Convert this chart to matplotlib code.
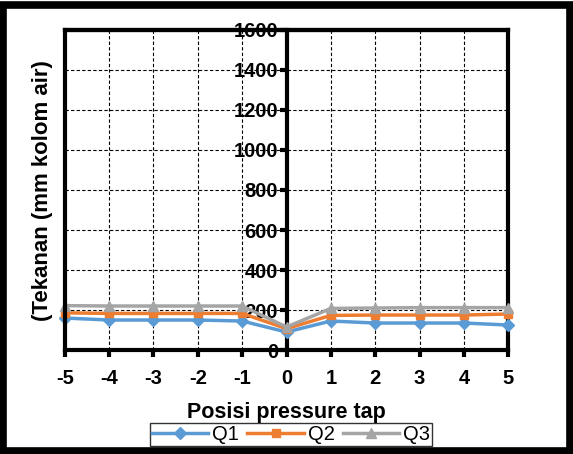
import matplotlib.pyplot as plt
from matplotlib.patches import Rectangle

plt.rcParams['font.family'] = ['Liberation Sans', 'DejaVu Sans']
plt.rcParams['axes.unicode_minus'] = False

# data
posisi = [-5, -4, -3, -2, -1, 0, 1, 2, 3, 4, 5]
q1 = [160, 150, 150, 150, 145, 90, 145, 135, 135, 135, 125]
q2 = [186, 183, 183, 183, 183, 107, 173, 175, 175, 175, 180]
q3 = [222, 220, 220, 220, 220, 115, 208, 210, 212, 212, 212]

fig = plt.figure(figsize=(5.73, 4.54), dpi=100)
ax = fig.add_axes([0.113, 0.229, 0.774, 0.705])

ax.plot(posisi, q1, color='#5B9BD5', marker='D', markersize=6, lw=2.5, label='Q1', zorder=5, clip_on=False)
ax.plot(posisi, q2, color='#ED7D31', marker='s', markersize=6, lw=2.5, label='Q2', zorder=5, clip_on=False)
ax.plot(posisi, q3, color='#A5A5A5', marker='^', markersize=7, lw=2.5, label='Q3', zorder=5, clip_on=False)

ax.set_xlim(-5, 5)
ax.set_ylim(0, 1600)
ax.set_xticks(posisi)
ax.set_yticks(range(0, 1601, 200))

# y axis drawn through the middle
ax.spines['left'].set_position(('data', 0))
for s in ax.spines.values():
    s.set_linewidth(3)
ax.axvline(-5, color='black', lw=3, clip_on=False, zorder=6)
ax.axhline(1600, color='black', lw=3, clip_on=False, zorder=6)

ax.grid(True, color='black', linestyle='--', lw=0.8, dashes=(3, 2))
ax.set_axisbelow(True)

ax.tick_params(axis='both', direction='out', length=5, width=3, labelsize=14.5)
ax.tick_params(axis='x', pad=9)
ax.tick_params(axis='y', pad=1)
for lab in ax.get_xticklabels() + ax.get_yticklabels():
    lab.set_fontweight('bold')

ax.set_xlabel('Posisi pressure tap', fontsize=15.5, fontweight='bold', labelpad=10)
fig.text(0.075, 0.58, '(Tekanan (mm kolom air)', rotation=90, fontsize=16,
         fontweight='bold', ha='center', va='center')

leg = fig.legend(loc='center', bbox_to_anchor=(0.508, 0.043), ncol=3, fontsize=14.5,
                 frameon=True, fancybox=False, edgecolor='black', handlelength=2.8,
                 handletextpad=0.2, columnspacing=0.4, borderpad=0.1)
leg.get_frame().set_linewidth(1)

fig.patches.append(Rectangle((0.006, 0.007), 0.988, 0.982, transform=fig.transFigure,
                             fill=False, edgecolor='black', lw=5.5))

fig.savefig('out.png', dpi=100)
